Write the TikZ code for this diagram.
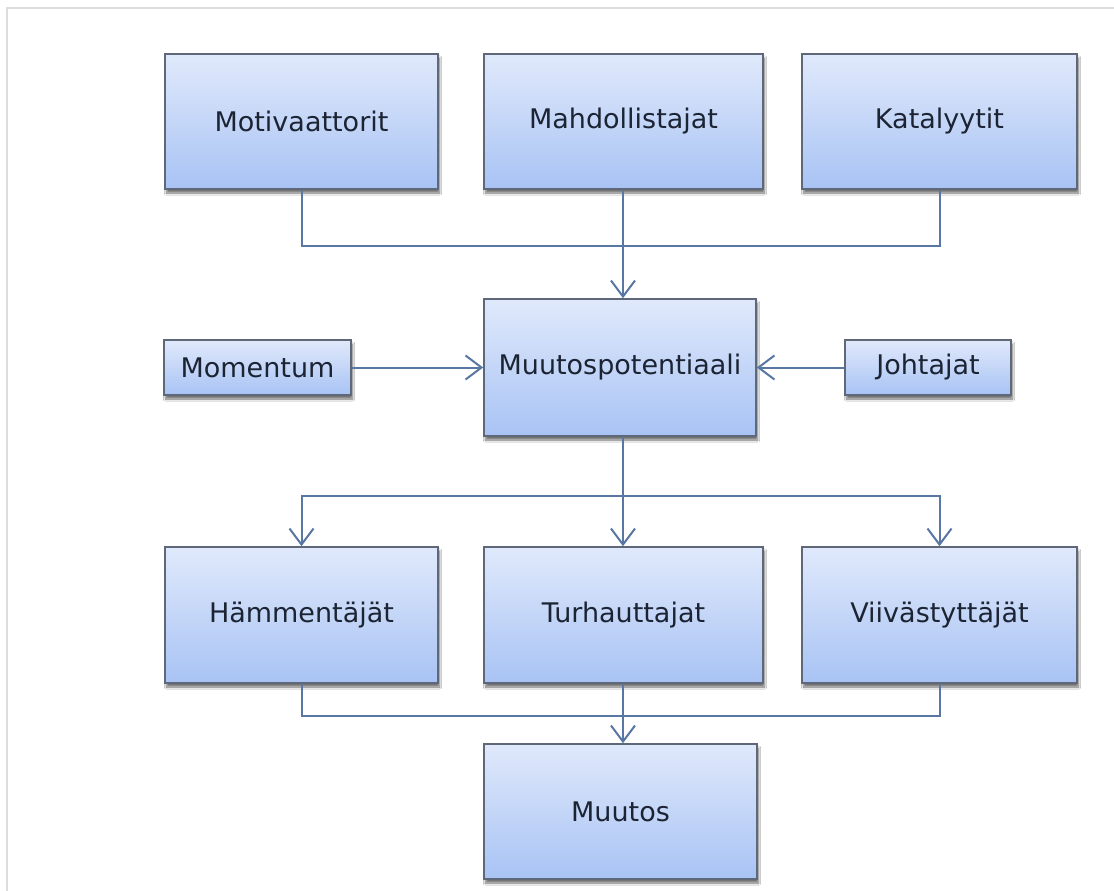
\documentclass[tikz,border=0pt]{standalone}
\usepackage{fontspec}
\setmainfont{DejaVu Sans}
\usetikzlibrary{arrows.meta,shadows.blur}
\definecolor{boxtop}{HTML}{E0E9FB}
\definecolor{boxbot}{HTML}{A8C3F4}
\definecolor{boxline}{HTML}{5E6878}
\definecolor{linkcol}{HTML}{5877A3}
\definecolor{textcol}{HTML}{1C2434}
\definecolor{framecol}{HTML}{DCDCDC}
\tikzset{
  block/.style={draw=boxline, line width=1.6pt, top color=boxtop, bottom color=boxbot,
    text=textcol, font=\fontsize{27}{32}\selectfont, inner sep=0pt,
    blur shadow={shadow xshift=1.5pt, shadow yshift=-4pt, shadow blur steps=6, shadow opacity=55}},
  link/.style={draw=linkcol, line width=2pt},
  arrowlink/.style={link, -{Straight Barb[length=16pt,width=24pt,line width=2pt]}}
}
\begin{document}
\begin{tikzpicture}[x=1pt,y=-1pt]
  % page area and the light frame along the top and left
  \useasboundingbox (0,0) rectangle (1114,891);
  \fill[white] (0,0) rectangle (1114,891);
  \draw[framecol, line width=2pt] (7,891) -- (7,8) -- (1114,8);

  % top row
  \node[block, minimum width=273pt, minimum height=135pt] (mot) at (301.5,121.5) {Motivaattorit};
  \node[block, minimum width=279pt, minimum height=135pt] (mah) at (623.5,121.5) {Mahdollistajat};
  \node[block, minimum width=275pt, minimum height=135pt] (kat) at (939.5,121.5) {Katalyytit};

  % middle row
  \node[block, minimum width=272pt, minimum height=137pt] (pot) at (620,367.5) {Muutospotentiaali};
  \node[block, minimum width=187pt, minimum height=55pt] (mom) at (257.5,367.5) {Momentum};
  \node[block, minimum width=166pt, minimum height=55pt] (joh) at (928,367.5) {Johtajat};

  % third row
  \node[block, minimum width=273pt, minimum height=136pt] (ham) at (301.5,615) {Hämmentäjät};
  \node[block, minimum width=279pt, minimum height=136pt] (tur) at (623.5,615) {Turhauttajat};
  \node[block, minimum width=275pt, minimum height=136pt] (vii) at (939.5,615) {Viivästyttäjät};

  % result
  \node[block, minimum width=273pt, minimum height=135pt] (muu) at (620.5,811.5) {Muutos};

  % junction points
  \coordinate (join1) at (623,246);
  \coordinate (split) at (623,496);
  \coordinate (join2) at (623,716);

  % top row into the potential
  \draw[link] (mot.south) |- (join1);
  \draw[link] (kat.south) |- (join1);
  \draw[arrowlink] (mah.south -| join1) -- (pot.north -| join1);

  % side inputs
  \draw[arrowlink] (mom.east) -- (pot.west);
  \draw[arrowlink] (joh.west) -- (pot.east);

  % potential out to the third row
  \draw[link] (pot.south -| split) -- (split);
  \draw[arrowlink] (split) -| (ham.north);
  \draw[arrowlink] (split) -| (vii.north);
  \draw[arrowlink] (split) -- (tur.north -| split);

  % third row into the result
  \draw[link] (ham.south) |- (join2);
  \draw[link] (vii.south) |- (join2);
  \draw[link] (tur.south -| join2) -- (join2);
  \draw[arrowlink] (join2) -- (muu.north -| join2);
\end{tikzpicture}
\end{document}
